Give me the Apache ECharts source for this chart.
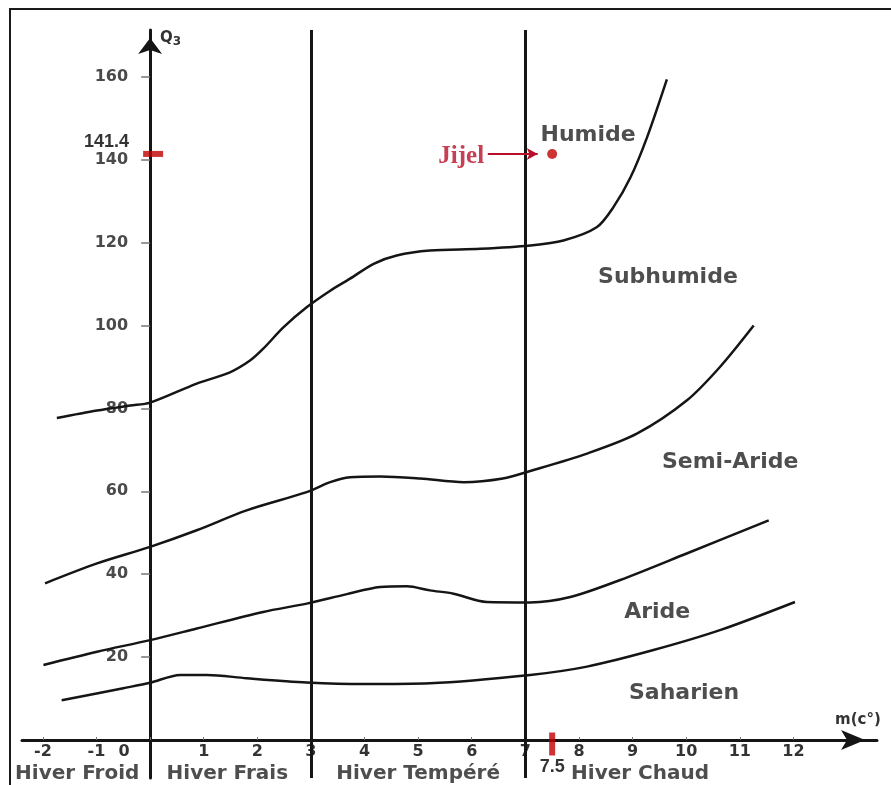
<!DOCTYPE html>
<html>
<head>
<meta charset="utf-8">
<script src="https://cdn.jsdelivr.net/npm/echarts@6/dist/echarts.min.js"></script>
<style>
  html, body { margin: 0; padding: 0; background: #ffffff; }
  #chart { width: 891px; height: 785px; }
</style>
</head>
<body>
<div id="chart"></div>
<script>
// Emberger climagram: Q3 against m (mean minimum of the coldest month, °C)

// Boundary curves between bioclimatic stages, [m, Q3]
const humideSubhumide = [[-1.74,77.7],[-0.99,79.5],[-0.37,80.7],[0,81.4],[0.87,86.0],[1.49,88.7],[1.87,91.6],[2.11,94.4],[2.49,99.6],[2.92,104.4],[3.36,108.4],[3.73,111.3],[4.17,114.9],[4.60,116.9],[5.22,118.1],[6.16,118.5],[7.09,119.3],[7.71,120.5],[8.33,123.7],[8.64,128.5],[8.96,135.7],[9.27,145.4],[9.64,159.4]];
const subhumideSemiAride = [[-1.96,37.8],[-0.99,42.6],[0,46.6],[0.87,50.6],[1.80,55.4],[2.92,59.8],[3.36,62.2],[3.73,63.4],[4.29,63.6],[5.04,63.1],[5.85,62.2],[6.58,63.1],[7.09,64.9],[8.15,69.1],[9.08,73.9],[10.01,81.9],[10.63,90.0],[11.26,100.0]];
const semiArideAride = [[-1.99,18.1],[-0.99,21.3],[0,24.1],[0.87,26.9],[2.11,30.9],[2.92,32.9],[3.67,35.2],[4.29,36.9],[4.79,37.1],[5.22,36.1],[5.66,35.3],[6.28,33.3],[7.09,33.2],[7.84,34.5],[8.77,38.6],[10.01,45.0],[11.54,53.0]];
const arideSaharien = [[-1.65,9.6],[-0.50,12.5],[0,13.8],[0.56,15.7],[1.06,15.7],[1.80,14.9],[2.92,13.9],[3.98,13.5],[5.22,13.7],[7.09,15.7],[8.15,17.7],[9.39,21.7],[10.63,26.5],[12.03,33.3]];

// Winter-type limits (m = 0 is the Q3 axis itself)
const winterLimits = [3, 7];

// Tick labels
const xTicks = [-2, -1, 0, 1, 2, 3, 4, 5, 6, 7, 8, 9, 10, 11, 12];
const yTicks = [20, 40, 60, 80, 100, 120, 140, 160];

// Stage names and where they sit
const stageNames = ['Humide', 'Subhumide', 'Semi-Aride', 'Aride', 'Saharien'];
const stageM = [8.17, 9.66, 10.82, 9.46, 9.96];
const stageQ = [145.8, 111.6, 67.0, 30.8, 11.3];

// Winter types along the bottom
const winterNames = ['Hiver Froid', 'Hiver Frais', 'Hiver Tempéré', 'Hiver Chaud'];
const winterM = [-1.36, 1.44, 5.0, 9.14];
const winterQ = -8.1;

// Station
const stationName = 'Jijel';
const stationM = 7.5;
const stationQ = 141.4;

const X_MIN = -2.39, X_MAX = 13.56;
const Y_MIN = -9.17, Y_MAX = 171.3;

const RED = '#c00000';
const INK = '#151515';
const SANS = 'DejaVu Sans';

const GRID = { left: 22, right: 14, top: 30, bottom: 7 };
const W = 891, H = 785;
// pixel distance from the grid edges to the m = 0 and Q3 = 0 lines
const plotW = W - GRID.left - GRID.right;
const plotH = H - GRID.top - GRID.bottom;
const yAxisShift = plotW * (0 - X_MIN) / (X_MAX - X_MIN);
const xAxisShift = plotH * (0 - Y_MIN) / (Y_MAX - Y_MIN);

function curve(data) {
  return {
    type: 'line',
    data: data,
    smooth: 0.3,
    showSymbol: false,
    silent: true,
    lineStyle: { color: INK, width: 2.5 },
    z: 3
  };
}

const chart = echarts.init(document.getElementById('chart'), null, { renderer: 'canvas' });

chart.setOption({
  backgroundColor: '#ffffff',
  animation: false,
  graphic: [{
    type: 'rect',
    shape: { x: 10, y: 9, width: 1000, height: 1000 },
    style: { fill: 'none', stroke: '#1a1a1a', lineWidth: 2 },
    silent: true,
    z: -10
  }],
  grid: Object.assign({ containLabel: false, outerBoundsMode: 'none' }, GRID),
  xAxis: {
    type: 'value',
    position: 'bottom',
    offset: -xAxisShift,
    min: X_MIN,
    max: X_MAX,
    axisLine: {
      onZero: false,
      symbol: ['none', 'arrow'],
      symbolSize: [15, 24],
      symbolOffset: [0, -12],
      lineStyle: { color: INK, width: 3 }
    },
    axisTick: { show: true, inside: true, length: 3, customValues: xTicks, lineStyle: { color: '#777', width: 1 } },
    axisLabel: {
      customValues: xTicks,
      margin: 4,
      color: '#333',
      fontFamily: SANS,
      fontWeight: 'bold',
      fontSize: 16,
      formatter: v => (v === 0 ? '{z|0}' : String(v)),
      rich: { z: { padding: [0, 52, 0, 0], color: '#333', fontFamily: SANS, fontWeight: 'bold', fontSize: 16 } }
    },
    splitLine: { show: false },
    name: 'm(c°)',
    nameLocation: 'end',
    nameGap: -42,
    nameMoveOverlap: false,
    nameTextStyle: { color: '#333', fontFamily: SANS, fontWeight: 'bold', fontSize: 15, align: 'left', verticalAlign: 'bottom', padding: [0, 0, 12, 0] }
  },
  yAxis: {
    type: 'value',
    position: 'left',
    offset: -yAxisShift,
    min: Y_MIN,
    max: Y_MAX,
    axisLine: {
      onZero: false,
      symbol: ['none', 'arrow'],
      symbolSize: [18, 16],
      symbolOffset: [0, -8],
      lineStyle: { color: INK, width: 3 }
    },
    axisTick: { show: true, length: 9, customValues: yTicks, lineStyle: { color: '#777', width: 1.5 } },
    axisLabel: {
      customValues: yTicks,
      margin: 22,
      color: '#4a4a4a',
      fontFamily: SANS,
      fontWeight: 'bold',
      fontSize: 16
    },
    splitLine: { show: false },
    name: '{q|Q}{s|3}',
    nameLocation: 'end',
    nameGap: -18,
    nameMoveOverlap: false,
    nameTextStyle: {
      align: 'left',
      verticalAlign: 'bottom',
      padding: [0, 0, 0, 10],
      rich: {
        q: { color: '#333', fontFamily: SANS, fontWeight: 'bold', fontSize: 15 },
        s: { color: '#333', fontFamily: SANS, fontWeight: 'bold', fontSize: 12, padding: [8, 0, 0, 0] }
      }
    }
  },
  series: [
    Object.assign(curve(humideSubhumide), {
      markLine: {
        silent: true,
        symbol: ['none', 'none'],
        label: { show: false },
        lineStyle: { color: INK, width: 3, type: 'solid' },
        data: winterLimits.map(v => ({ xAxis: v }))
      }
    }),
    curve(subhumideSemiAride),
    curve(semiArideAride),
    curve(arideSaharien),
    {
      // stage names
      type: 'scatter',
      silent: true,
      symbolSize: 1,
      itemStyle: { color: 'transparent' },
      data: stageNames.map((n, i) => ({ name: n, value: [stageM[i], stageQ[i]] })),
      label: {
        show: true,
        position: 'inside',
        formatter: '{b}',
        color: '#222',
        fontFamily: SANS,
        fontWeight: 'bold',
        fontSize: 22
      },
      z: 4
    },
    {
      // winter types under the m axis
      type: 'scatter',
      silent: true,
      symbolSize: 1,
      itemStyle: { color: 'transparent' },
      data: winterNames.map((n, i) => ({ name: n, value: [winterM[i], winterQ] })),
      label: {
        show: true,
        position: 'inside',
        formatter: '{b}',
        color: '#222',
        fontFamily: SANS,
        fontWeight: 'bold',
        fontSize: 20
      },
      z: 4
    },
    {
      // station point with its pointer
      type: 'scatter',
      silent: true,
      symbol: 'circle',
      symbolSize: 10,
      itemStyle: { color: RED },
      data: [{ name: stationName, value: [stationM, stationQ] }],
      label: {
        show: true,
        position: 'left',
        distance: 63,
        offset: [0, 3],
        formatter: '{b}',
        color: '#b8102a',
        fontFamily: 'Liberation Serif',
        fontWeight: 'bold',
        fontSize: 25
      },
      markLine: {
        silent: true,
        symbol: ['none', 'arrow'],
        symbolSize: [9, 11],
        label: { show: false },
        lineStyle: { color: '#b8102a', width: 1.8, type: 'solid' },
        data: [[{ coord: [stationM - 1.2, stationQ] }, { coord: [stationM - 0.27, stationQ] }]]
      },
      z: 6
    },
    {
      // station Q3 read on the vertical axis
      type: 'scatter',
      silent: true,
      symbol: 'rect',
      symbolSize: [20, 6],
      symbolOffset: [3, 0],
      itemStyle: { color: RED },
      data: [[0, stationQ]],
      label: {
        show: true,
        position: 'left',
        distance: 14,
        offset: [0, -12],
        formatter: p => String(p.value[1]),
        color: '#000',
        fontFamily: 'Liberation Sans',
        fontWeight: 'bold',
        fontSize: 18
      },
      z: 6
    },
    {
      // station m read on the horizontal axis
      type: 'scatter',
      silent: true,
      symbol: 'rect',
      symbolSize: [6, 23],
      symbolOffset: [0, 4],
      itemStyle: { color: RED },
      data: [[stationM, 0]],
      label: {
        show: true,
        position: 'bottom',
        distance: 3,
        formatter: p => String(p.value[0]),
        color: '#000',
        fontFamily: 'Liberation Sans',
        fontWeight: 'bold',
        fontSize: 18
      },
      z: 6
    }
  ]
});
</script>
</body>
</html>
